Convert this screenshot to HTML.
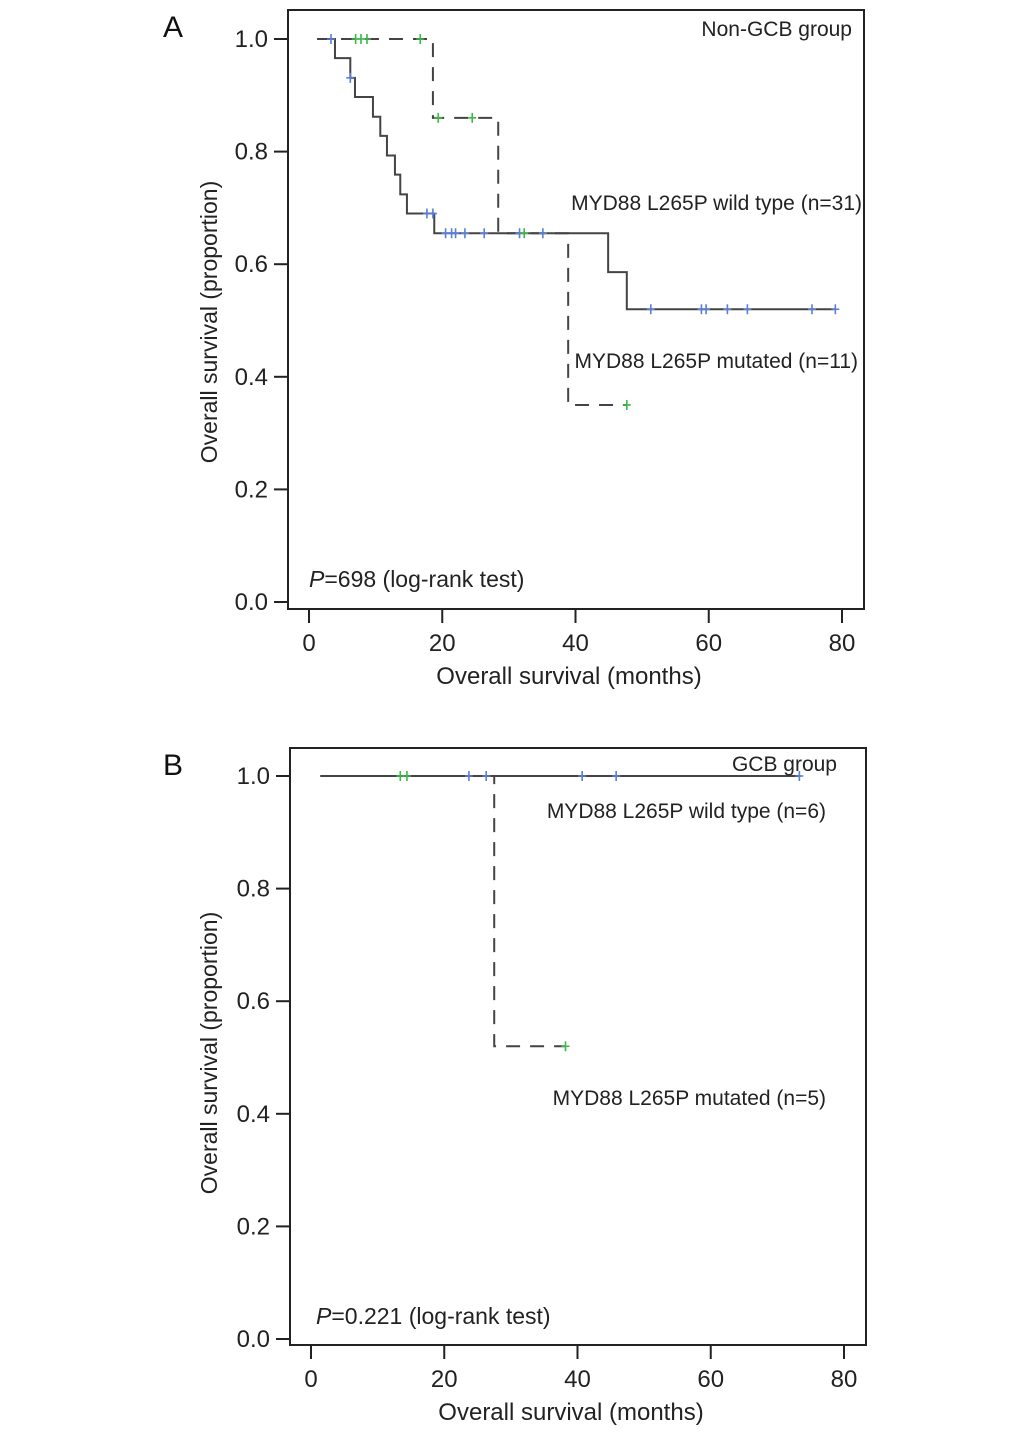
<!DOCTYPE html>
<html><head><meta charset="utf-8"><style>
body{margin:0;background:#fff;}
svg{display:block;font-family:"Liberation Sans",Arial,sans-serif;}
</style></head><body>
<svg id="chart" width="1033" height="1435" viewBox="0 0 1033 1435" xmlns="http://www.w3.org/2000/svg"></svg>
<script>
// Panel A data
const aWildTimes=[1.2,3.9,6.2,6.9,9.6,10.7,11.7,12.9,13.7,14.7,18.8,44.9,47.7,79];
const aWildSurv=[1.0,0.966,0.931,0.897,0.862,0.828,0.793,0.759,0.724,0.69,0.655,0.586,0.52,0.52];
const aWildCens=[3.3,6.2,17.7,18.6,20.5,21.4,22.0,23.4,26.3,31.6,35.1,51.3,58.9,59.6,62.8,65.8,75.5,79];
const aMutTimes=[1.2,18.6,28.4,38.9,47.7];
const aMutSurv=[1.0,0.86,0.655,0.35,0.35];
const aMutCens=[7.0,7.8,8.7,16.7,19.4,24.5,32.3,47.7];
// Panel B data
const bWildTimes=[1.4,73.5];
const bWildSurv=[1.0,1.0];
const bWildCens=[23.7,26.3,40.7,45.8,73.3];
const bMutTimes=[1.4,27.5,38.2];
const bMutSurv=[1.0,0.52,0.52];
const bMutCens=[13.4,14.4,38.2];
const xTicks=[0,20,40,60,80];
const yTicks=[0.0,0.2,0.4,0.6,0.8,1.0];

const svg=document.getElementById('chart');
const NS='http://www.w3.org/2000/svg';
function mk(tag,attrs,parent){const e=document.createElementNS(NS,tag);for(const k in attrs)e.setAttribute(k,attrs[k]);(parent||svg).appendChild(e);return e;}

function panel(p){
  const g=mk('g',{});
  
  
  const xs=m=>p.x0+m*(p.x80-p.x0)/80;
  const ys=v=>p.y0-v*(p.y0-p.y1);
  const box=mk('rect',{x:p.bx,y:p.by,width:p.bw,height:p.bh,fill:'none',stroke:'#222','stroke-width':2},g);
  
  xTicks.forEach(t=>{
    const l=mk('line',{x1:xs(t),x2:xs(t),y1:p.by+p.bh,y2:p.by+p.bh+14,stroke:'#222','stroke-width':2},g);
    
    const tx=mk('text',{x:xs(t),y:p.by+p.bh+42,'font-size':24,'text-anchor':'middle',fill:'#222'},g);tx.textContent=t;
    
  });
  yTicks.forEach(t=>{
    const l=mk('line',{x1:p.bx-14,x2:p.bx,y1:ys(t),y2:ys(t),stroke:'#222','stroke-width':2},g);
    
    const tx=mk('text',{x:p.bx-20,y:ys(t)+8,'font-size':24,'text-anchor':'end',fill:'#222'},g);tx.textContent=t.toFixed(1);
    
  });
  const xt=mk('text',{x:(p.bx+p.bx+p.bw)/2-7,y:p.by+p.bh+75,'font-size':24,'text-anchor':'middle',fill:'#222'},g);
  xt.textContent='Overall survival (months)';
  const yc=p.ycen;
  const yt=mk('text',{x:0,y:0,transform:`translate(217,${yc}) rotate(-90)`,'font-size':23,'text-anchor':'middle',fill:'#222'},g);
  yt.textContent='Overall survival (proportion)';
  const pl=mk('text',{x:163,y:p.by+27,'font-size':30,fill:'#111'},g);pl.textContent=p.label;
  
  function step(times,surv,dash,name){
    let d=`M${xs(times[0])},${ys(surv[0])}`;
    for(let i=1;i<times.length;i++){d+=` H${xs(times[i])} V${ys(surv[i])}`;}
    const path=mk('path',{d:d,fill:'none',stroke:'#444','stroke-width':2,'stroke-dasharray':dash||'none'},g);
    
    return t=>{let v=surv[0];for(let i=0;i<times.length;i++){if(times[i]<=t)v=surv[i];}return v;};
  }
  function cens(list,fn,color,name){
    list.forEach(c=>{
      const cx=xs(c),cy=ys(fn(c));
      const e=mk('path',{d:`M${cx-4},${cy} H${cx+4} M${cx},${cy-5} V${cy+5}`,stroke:color,'stroke-width':1.6},g);
      
    });
  }
  const fm=step(p.mutT,p.mutS,'14,10','mutated-curve');
  const fw=step(p.wildT,p.wildS,null,'wild-type-curve');
  cens(p.wildC,fw,'#5b7fd6','wild-type-censor');
  cens(p.mutC,fm,'#3cb84a','mutated-censor');
  p.texts.forEach(tt=>{
    const e=mk('text',{x:tt[0],y:tt[1],'font-size':tt[5],'text-anchor':tt[3]||'start',fill:'#222'},g);
    e.innerHTML=tt[2];
  });
}

panel({id:'a',label:'A',bx:288,by:10,bw:576,bh:599,x0:309,x80:842,y0:602,y1:39,ycen:322,
  wildT:aWildTimes,wildS:aWildSurv,wildC:aWildCens,mutT:aMutTimes,mutS:aMutSurv,mutC:aMutCens,
  texts:[[852,36,'Non-GCB group','end','group-title',21],[862,210,'MYD88 L265P wild type (n=31)','end','wild-type-label',21],
  [858,368,'MYD88 L265P mutated (n=11)','end','mutated-label',21],[309,587,'<tspan font-style="italic">P</tspan>=698 (log-rank test)','start','p-value',23]]});
panel({id:'b',label:'B',bx:290,by:748,bw:576,bh:597,x0:311,x80:844,y0:1339,y1:776,ycen:1053,
  wildT:bWildTimes,wildS:bWildSurv,wildC:bWildCens,mutT:bMutTimes,mutS:bMutSurv,mutC:bMutCens,
  texts:[[837,771,'GCB group','end','group-title',21],[826,818,'MYD88 L265P wild type (n=6)','end','wild-type-label',21],
  [826,1105,'MYD88 L265P mutated (n=5)','end','mutated-label',21],[316,1324,'<tspan font-style="italic">P</tspan>=0.221 (log-rank test)','start','p-value',23]]});
</script>
</body></html>
